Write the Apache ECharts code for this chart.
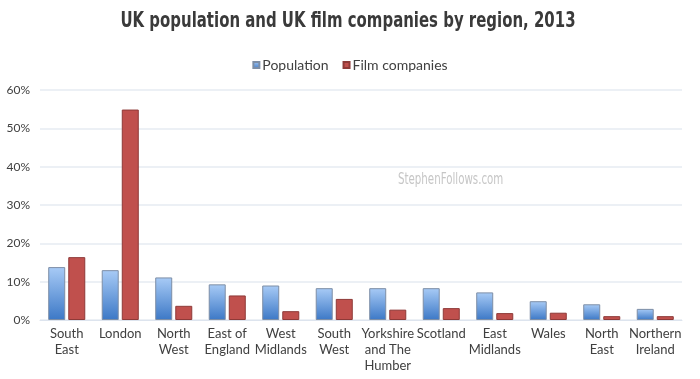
<!DOCTYPE html>
<html>
<head>
<meta charset="utf-8">
<script src="https://cdn.jsdelivr.net/npm/echarts@6/dist/echarts.min.js"></script>
<style>
html,body{margin:0;padding:0;background:#fff;}
#chart{width:700px;height:379px;}
</style>
</head>
<body>
<div id="chart"></div>
<script>
var categories = ["South\nEast","London","North\nWest","East of\nEngland","West\nMidlands","South\nWest","Yorkshire\nand The\nHumber","Scotland","East\nMidlands","Wales","North\nEast","Northern\nIreland"];
var population = [13.8, 13.0, 11.1, 9.3, 9.0, 8.3, 8.3, 8.3, 7.2, 4.9, 4.1, 2.9];
var filmCompanies = [16.4, 54.9, 3.7, 6.4, 2.3, 5.5, 2.7, 3.1, 1.8, 1.9, 1.0, 1.0];
var yTicks = [0, 10, 20, 30, 40, 50, 60];

var labelFont = "Lato, 'Open Sans', sans-serif";
var condFont = "'DejaVu Sans Condensed','Liberation Sans Narrow',sans-serif";
var chart = echarts.init(document.getElementById('chart'), null, {renderer:'canvas'});
var blueGrad = new echarts.graphic.LinearGradient(0,0,0,1,[{offset:0,color:'#a8cbf6'},{offset:1,color:'#3c78c6'}]);
chart.setOption({
  animation:false,
  legend:{
    top:53, left:'center',
    itemWidth:6, itemHeight:6, itemGap:14,
    icon:'rect',
    textStyle:{fontFamily:labelFont,fontSize:14,color:'#404040',padding:[0,0,0,-2]},
    data:['Population','Film companies']
  },
  graphic:[{
    type:'text', x:348, y:21, scaleX:0.755,
    style:{text:'UK population and UK film companies by region, 2013', fill:'#3a3a3a',
      font:"bold 22px " + condFont, textAlign:'center', textVerticalAlign:'middle'}
  },{
    type:'text', x:398, y:180, scaleX:0.76,
    style:{text:'StephenFollows.com', fill:'#c6c6c6', font:"15px " + condFont, textAlign:'left', textVerticalAlign:'middle'}
  }],
  grid:{left:40, right:18, top:90, bottom:59},
  xAxis:{
    type:'category', data:categories,
    axisLine:{lineStyle:{color:'#dde4ee'}},
    axisTick:{show:false},
    axisLabel:{interval:0, fontFamily:labelFont, fontSize:13, color:'#404040', lineHeight:16, margin:6}
  },
  yAxis:{
    type:'value', min:yTicks[0], max:yTicks[yTicks.length-1], interval:10,
    axisLine:{show:false}, axisTick:{show:false},
    splitLine:{lineStyle:{color:'#e6ebf2', width:1.5}},
    axisLabel:{formatter:'{value}%', fontFamily:labelFont, fontSize:12, color:'#404040', margin:10}
  },
  series:[
    {name:'Population', type:'bar', data:population, barWidth:17, barGap:'18%',
     itemStyle:{color:blueGrad, borderColor:'#7d8ea6', borderWidth:1}},
    {name:'Film companies', type:'bar', data:filmCompanies, barWidth:17,
     itemStyle:{color:'#c0504d', borderColor:'#8e3a38', borderWidth:1}}
  ]
});
</script>
</body>
</html>
